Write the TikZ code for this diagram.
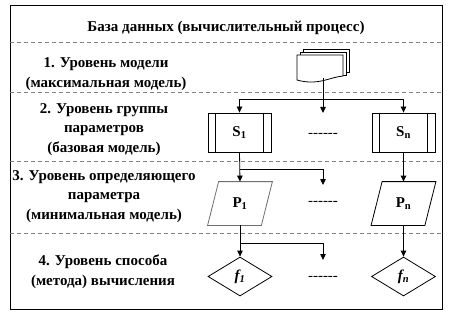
\documentclass[tikz,border=0pt]{standalone}
\usepackage{fontspec}
\setmainfont{Liberation Serif}
\usetikzlibrary{arrows.meta,shapes.geometric}
\definecolor{sepgray}{RGB}{128,128,128}
\definecolor{pgray}{RGB}{110,110,110}
\newcommand{\dashrow}{-\kern0pt-\kern0pt-\kern0pt-\kern0pt-\kern0pt-}
\tikzset{levels/.style={x=1pt,y=-1pt,line width=0.8pt,
           font=\fontsize{15}{19.5}\selectfont\bfseries}}
\tikzset{sepline/.style={sepgray,line width=1pt,dash pattern=on 4pt off 3pt},
         arr/.style={-{Triangle[width=5.5pt,length=6pt]}},
         sbox/.style={draw,minimum width=63pt,minimum height=39pt,inner sep=0pt},
         pbox/.style={minimum width=64pt,minimum height=43pt,inner sep=0pt},
         fbox/.style={diamond,draw,aspect=1.64,minimum width=64pt,minimum height=39pt,inner sep=0pt},
         page/.style={draw=black,fill=white},
         lvl/.style={align=center}}

\begin{document}
\begin{tikzpicture}[levels]
    \useasboundingbox (0,0) rectangle (453,321);
    \draw (10,5) rectangle (442,309);
    \foreach \y in {43,93,161,233} \draw[sepline] (10,\y) -- (442,\y);
    % texts of the levels
    \node (title) at (226,28) {База данных (вычислительный процесс)};
    \node[lvl] (L1) at (106,74)  {1. Уровень модели\\(максимальная модель)};
    \node[lvl] (L2) at (104,129.5) {2. Уровень группы\\параметров\\(базовая модель)};
    \node[lvl] (L3) at (104,196.5) {3. Уровень определяющего\\параметра\\(минимальная модель)};
    \node[lvl] (L4) at (103,271.5) {4. Уровень способа\\(метода) вычисления};
    % stacked documents
    \draw[page] (303,49) -- (349,49) -- (349,72) -- (303,72) -- cycle;
    \draw[page] (300,52) -- (346,52) -- (346,75) -- (300,75) -- cycle;
    \draw[page] (297,55) -- (343,55) -- (343,76)
        .. controls (330,77) and (318,86) .. (297,80) -- cycle;
    \node[minimum width=52pt,minimum height=29pt,inner sep=0pt] (doc) at (323,63.5) {};
    % level 2
    \node[sbox] (S1) at (239.5,132.5) {S\textsubscript{1}};
    \node[sbox] (Sn) at (403.5,132.5) {S\textsubscript{n}};
    \foreach \s in {S1,Sn} {
      \draw ([xshift=8pt]\s.north west) -- ([xshift=8pt]\s.south west);
      \draw ([xshift=-8pt]\s.north east) -- ([xshift=-8pt]\s.south east);
    }
    \node (d2) at (323,135) {\mdseries\dashrow};
    % level 3
    \node[pbox] (P1) at (240,203.5) {P\textsubscript{1}};
    \node[pbox] (Pn) at (403.5,203.5) {P\textsubscript{n}};
    \foreach \p/\c in {P1/pgray,Pn/black}
      \draw[\c] ([xshift=11pt]\p.north west) -- (\p.north east)
        -- ([xshift=-11pt]\p.south east) -- (\p.south west) -- cycle;
    \node (d3) at (323,203) {\mdseries\dashrow};
    % level 4
    \node[fbox] (f1) at (240,276.5) {\textit{f\textsubscript{1}}};
    \node[fbox] (fn) at (403.5,276.5) {\textit{f\textsubscript{n}}};
    \node (d4) at (323,278) {\mdseries\dashrow};
    % connectors
    \coordinate (j1) at (323,99);
    \coordinate (m1) at (323,113);
    \coordinate (j2) at (240,169);
    \coordinate (m2) at (323,185);
    \coordinate (j3) at (240,243);
    \coordinate (m3) at (323,260);
    \draw (doc.south) -- (j1);
    \draw[arr] (j1) -| (S1.north);
    \draw[arr] (j1) -| (Sn.north);
    \draw[arr] (j1) -- (m1);
    \draw[arr] (S1.south) -- (P1.north);
    \draw[arr] (j2) -| (m2);
    \draw[arr] (Sn.south) -- (Pn.north);
    \draw[arr] (P1.south) -- (f1.north);
    \draw[arr] (j3) -| (m3);
    \draw[arr] (Pn.south) -- (fn.north);
\end{tikzpicture}
\end{document}
